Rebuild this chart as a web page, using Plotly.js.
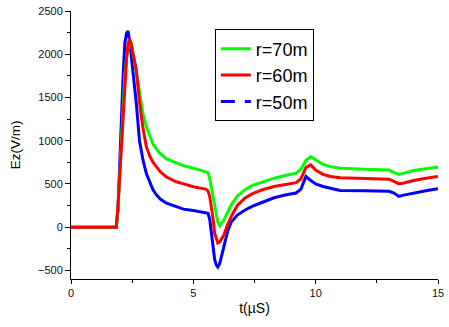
<!DOCTYPE html>
<html>
<head>
<meta charset="utf-8">
<script src="https://cdn.plot.ly/plotly-3.0.1.min.js"></script>
<style>
  html, body { margin: 0; padding: 0; background: #fff; }
  #chart { width: 449px; height: 327px; }
</style>
</head>
<body>
<div id="chart"></div>
<script>
// time axis (µs), shared by the three curves
const t = [0, 1.85, 1.92, 2.0, 2.06, 2.13, 2.2, 2.27, 2.33, 2.4, 2.47, 2.55, 2.67, 2.8, 2.94, 3.08,
    3.22, 3.35, 3.5, 3.65, 3.9, 4.3, 4.6, 5.0, 5.5, 5.6, 5.67, 5.74, 5.8, 5.87, 5.94, 6.0, 6.08,
    6.15, 6.25, 6.4, 6.55, 6.8, 7.1, 7.4, 7.8, 8.3, 8.8, 9.2, 9.4, 9.6, 9.8, 10.0, 10.3, 10.6,
    11.0, 12.0, 13.0, 13.2, 13.4, 13.6, 14.0, 14.5, 15.0];

const ez70 = [0, 0, 200, 662, 1000, 1431, 1750, 1950, 2060, 2120, 2125, 2000, 1800, 1560, 1316, 1160,
    1046, 960, 900, 850, 790, 739, 710, 682, 645, 630, 560, 450, 330, 220, 123, 60, 16,
    40, 80, 170, 258, 360, 431, 480, 516, 566, 600, 625, 670, 770, 815, 780, 725, 700,
    680, 670, 660, 630, 610, 625, 655, 675, 695];

const ez60 = [0, 0, 239, 650, 1000, 1350, 1680, 1950, 2120, 2180, 2100, 1980, 1816, 1450, 1150, 931,
    820, 750, 695, 640, 580, 525, 500, 468, 440, 420, 354, 230, 110, -69, -150, -184, -170,
    -140, -90, 30, 123, 250, 335, 385, 431, 470, 495, 515, 560, 690, 720, 660, 610, 585,
    570, 560, 555, 530, 500, 510, 540, 565, 585];

const ez50 = [0, 0, 200, 700, 1239, 1750, 2130, 2240, 2270, 2150, 1980, 1780, 1430, 1000, 780, 620,
    510, 431, 370, 325, 277, 235, 208, 192, 172, 160, 90, -100, -261, -370, -440, -462, -420,
    -338, -220, -50, 60, 140, 195, 240, 285, 340, 375, 395, 440, 585, 540, 500, 470, 450,
    425, 420, 415, 395, 355, 370, 395, 420, 445];

const names = ['r=70m', 'r=60m', 'r=50m'];
const colors = ['#00ff00', '#ff0000', '#0000ff'];

const traces = [
    { x: t, y: ez50, mode: 'lines', line: { color: colors[2], width: 3 }, showlegend: false, hoverinfo: 'skip' },
    { x: t, y: ez70, name: names[0], mode: 'lines', line: { color: colors[0], width: 3 }, legendrank: 1 },
    { x: t, y: ez60, name: names[1], mode: 'lines', line: { color: colors[1], width: 3 }, legendrank: 2 },
    // legend entry for the dashed r=50m curve
    { x: [null], y: [null], name: names[2], mode: 'lines', line: { color: colors[2], width: 3, dash: '14px,10px' }, legendrank: 3 }
];

const tickFont = { family: 'Arial, "Liberation Sans", sans-serif', size: 11, color: '#111' };

const layout = {
    width: 449,
    height: 327,
    margin: { l: 71, r: 11, t: 11, b: 48 },
    paper_bgcolor: '#fff',
    plot_bgcolor: '#fff',
    showlegend: true,
    legend: {
        x: 0.392, y: 0.931, xanchor: 'left', yanchor: 'top',
        bordercolor: '#000', borderwidth: 1, bgcolor: '#fff',
        font: { family: 'Arial, "Liberation Sans", sans-serif', size: 18, color: '#000' },
        tracegroupgap: 0
    },
    xaxis: {
        range: [0, 15],
        tickvals: [0, 5, 10, 15],
        ticks: 'outside', ticklen: 4, tickcolor: '#000',
        minor: { tickvals: [2.5, 7.5, 12.5], ticks: 'outside', ticklen: 3, tickcolor: '#000' },
        showline: true, linecolor: '#000', linewidth: 1,
        showgrid: false, zeroline: false,
        tickfont: tickFont,
        title: { text: 't(\u00b5S)', font: { family: 'Arial, "Liberation Sans", sans-serif', size: 14, color: '#000' }, standoff: 4 },
        automargin: false
    },
    yaxis: {
        range: [-600, 2500],
        tickvals: [-500, 0, 500, 1000, 1500, 2000, 2500],
        ticks: 'outside', ticklen: 5, tickcolor: '#000',
        minor: { dtick: 250, ticks: 'outside', ticklen: 3, tickcolor: '#000' },
        showline: true, linecolor: '#000', linewidth: 1,
        showgrid: false, zeroline: false,
        tickfont: tickFont,
        title: { text: 'Ez(V/m)', font: { family: 'Arial, "Liberation Sans", sans-serif', size: 13.5, color: '#000' }, standoff: 14 },
        automargin: false
    }
};

Plotly.newPlot('chart', traces, layout, { displayModeBar: false, staticPlot: true });
</script>
</body>
</html>
